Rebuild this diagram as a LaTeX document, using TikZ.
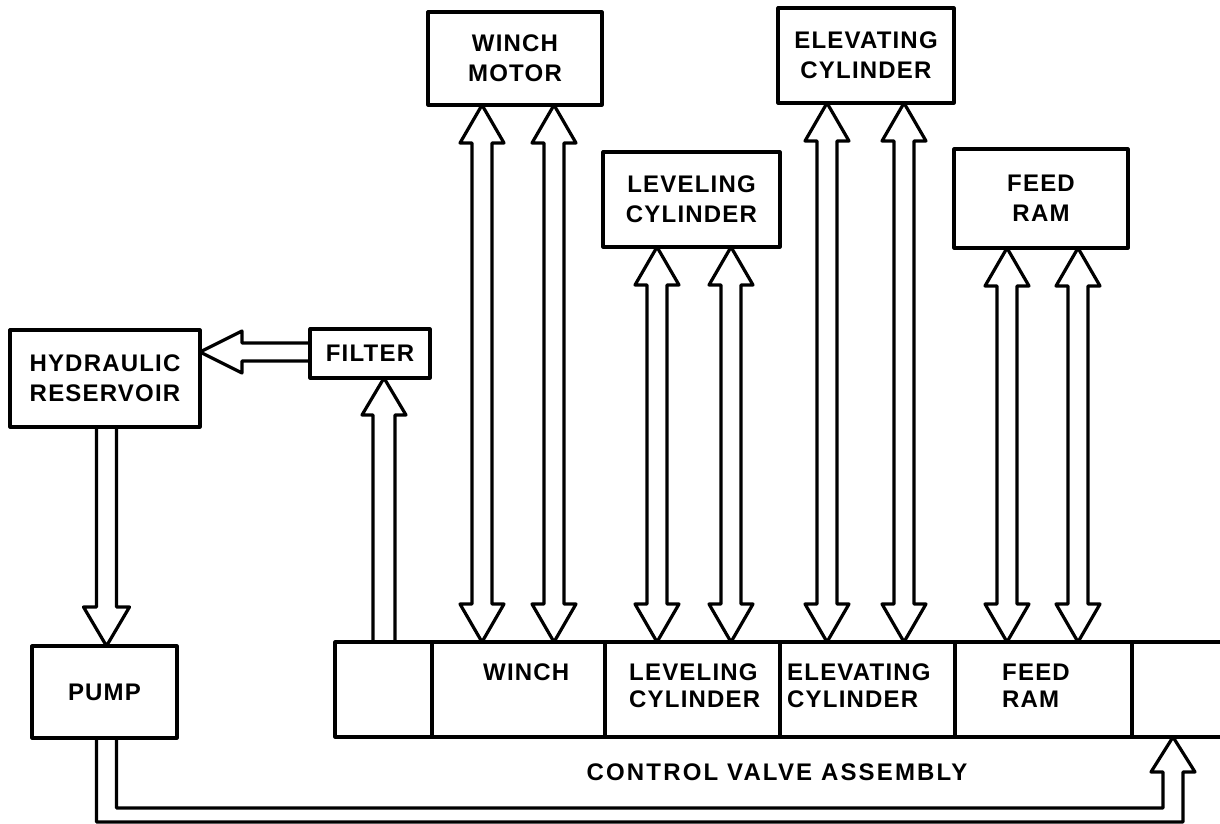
\documentclass[tikz,border=0pt]{standalone}
\usepackage{fontspec}
\setmainfont{Liberation Sans}[LetterSpace=5]
\newfontfamily\widefont{Liberation Sans}[LetterSpace=9]
\usetikzlibrary{calc}
\tikzset{
  ln/.style={line width=3.2pt, line join=round, line cap=round},
  box/.style={ln, draw, align=center, inner sep=0pt, outer sep=0pt, font=\bfseries\fontsize{24}{30}\selectfont},
  cell/.style={ln, draw, inner sep=0pt, outer sep=0pt, minimum height=95pt},
  txt/.style={align=left, inner sep=0pt, anchor=north west, font=\bfseries\fontsize{24}{27}\selectfont},
  pipe/.style={ln, draw}
}
\newcommand\dbarrow[2]{%
  \draw[pipe] (#1) -- ++(22,38) -- ++(-12,0) -- ($(#2)+(10,-38)$) -- ++(12,0) -- (#2)
    -- ++(-22,-38) -- ++(12,0) -- ($(#1)+(-10,38)$) -- ++(-12,0) -- cycle;}
\begin{document}
\begin{tikzpicture}[x=1pt,y=-1pt]
\useasboundingbox (0,0) rectangle (1220,824);
% boxes
\node[box, minimum width=190pt, minimum height=97pt] (res) at (105,378.5) {HYDRAULIC\\RESERVOIR};
\node[box, minimum width=120pt, minimum height=49pt] (filter) at (370,353.5) {FILTER};
\node[box, minimum width=145pt, minimum height=92pt] (pump) at (104.5,692) {PUMP};
\node[box, minimum width=174pt, minimum height=93pt] (wm) at (515,58.5) {WINCH\\MOTOR};
\node[box, minimum width=177pt, minimum height=95pt] (lc) at (691.5,199.5) {LEVELING\\CYLINDER};
\node[box, minimum width=176pt, minimum height=95pt] (ec) at (866,55.5) {ELEVATING\\CYLINDER};
\node[box, minimum width=174pt, minimum height=99pt] (fr) at (1041,198.5) {FEED\\RAM};
% control valve assembly cells
\node[cell, minimum width=97pt] (c0) at (383.5,689.5) {};
\node[cell, minimum width=173pt] (c1) at (518.5,689.5) {};
\node[cell, minimum width=175pt] (c2) at (692.5,689.5) {};
\node[cell, minimum width=175pt] (c3) at (867.5,689.5) {};
\node[cell, minimum width=177pt] (c4) at (1043.5,689.5) {};
\draw[ln] (c4.north east) -- (1224,0 |- c4.north);
\draw[ln] (c4.south east) -- (1224,0 |- c4.south);
\node[txt] (t1) at (483,664) {WINCH};
\node[txt] (t2) at (629,664) {LEVELING\\CYLINDER};
\node[txt] (t3) at (787,664) {ELEVATING\\CYLINDER};
\node[txt] (t4) at (1002,664) {FEED\\RAM};
\node[txt, anchor=center, font=\widefont\bfseries\fontsize{24}{27}\selectfont] (cva) at (777,772) {CONTROL VALVE ASSEMBLY};
% double-headed hollow arrows
\foreach \xx/\top/\bot [count=\i] in {482/wm/c1, 554/wm/c1, 657/lc/c2, 731/lc/c2, 827/ec/c3, 904/ec/c3, 1007/fr/c4, 1078/fr/c4}{
  \coordinate (a\i t) at (\xx,0 |- \top.south);
  \coordinate (a\i b) at (\xx,0 |- \bot.north);
  \dbarrow{a\i t}{a\i b}
}
% valve -> filter
\coordinate (ft) at (384,0 |- filter.south);
\coordinate (fb) at (384,0 |- c0.north);
\draw[pipe] ($(fb)+(11,0)$) -- ($(ft)+(11,37)$) -- ($(ft)+(22,37)$) -- (ft) -- ($(ft)+(-22,37)$) -- ($(ft)+(-11,37)$) -- ($(fb)+(-11,0)$);
% filter -> reservoir
\coordinate (rt) at (res.east |- 0,352);
\coordinate (rb) at (filter.west |- 0,352);
\draw[pipe] ($(rb)+(0,-9)$) -- ($(rt)+(42,-9)$) -- ($(rt)+(42,-21)$) -- (rt) -- ($(rt)+(42,21)$) -- ($(rt)+(42,9)$) -- ($(rb)+(0,9)$);
% reservoir -> pump
\coordinate (pt) at (106.5,0 |- pump.north);
\coordinate (rs) at (106.5,0 |- res.south);
\draw[pipe] ($(rs)+(-10,0)$) -- ($(pt)+(-10,-39)$) -- ($(pt)+(-23,-39)$) -- (pt) -- ($(pt)+(23,-39)$) -- ($(pt)+(10,-39)$) -- ($(rs)+(10,0)$);
% pump -> control valve
\coordinate (po) at (96.5,0 |- pump.south);
\coordinate (pi) at (116.5,0 |- pump.south);
\coordinate (vin) at (1173,0 |- c4.south);
\draw[pipe] (po) -- (po |- 0,822) -- (1183,822) -- ($(vin)+(10,35)$) -- ($(vin)+(22,35)$) -- (vin)
  -- ($(vin)+(-22,35)$) -- ($(vin)+(-10,35)$) -- (1163,808) -- (pi |- 0,808) -- (pi);
\end{tikzpicture}
\end{document}
